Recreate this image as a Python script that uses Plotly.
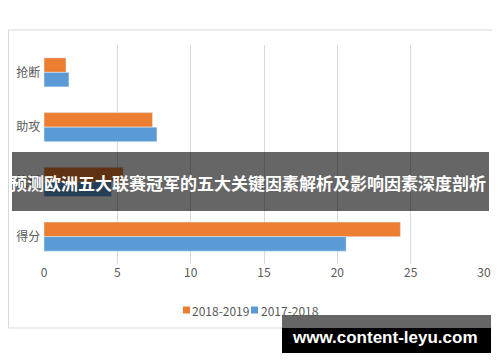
import plotly.graph_objects as go

categories = ["抢断", "助攻", "篮板", "得分"]
series_2018_2019 = [1.5, 7.4, 5.4, 24.3]
series_2017_2018 = [1.7, 7.7, 4.6, 20.6]
series_names = ["2018-2019", "2017-2018"]
series_colors = ["#ED7D31", "#5B9BD5"]
x_ticks = [0, 5, 10, 15, 20, 25, 30]
banner_text = "预测欧洲五大联赛冠军的五大关键因素解析及影响因素深度剖析"
watermark_text = "www.content-leyu.com"

# the page body adds an 8px offset; work in screen pixels and compensate
OFF = 8
W, H = 500 - OFF, 362 - OFF
L, R, T, B = 44 - OFF, 16, 45 - OFF, 98
pw, ph = W - L - R, H - T - B

def px(x):
    return (x - OFF - L) / pw

def py(y):
    return (H - B - (y - OFF)) / ph

fig = go.Figure()
for name, vals, col in zip(series_names, [series_2018_2019, series_2017_2018], series_colors):
    fig.add_trace(go.Bar(name=name, y=categories, x=vals,
                         orientation="h", marker_color=col))

cjk = "Noto Sans CJK SC"
fig.update_layout(
    width=W, height=H,
    margin=dict(l=L, r=R, t=T, b=B, autoexpand=False),
    paper_bgcolor="white", plot_bgcolor="white",
    barmode="group", bargap=0.47, bargroupgap=0,
    font=dict(family=cjk, color="#595959", size=12),
    xaxis=dict(range=[0, 30], tickvals=x_ticks, showgrid=True,
               gridcolor="#D9D9D9", gridwidth=1, zeroline=False,
               showline=False, ticks="", tickfont=dict(size=12, color="#595959"),
               fixedrange=True),
    yaxis=dict(autorange="reversed", showgrid=False, showline=False, ticks="",
               tickfont=dict(size=12, color="#595959"), ticksuffix=" "),
    showlegend=False,
)

shapes = [
    dict(type="rect", xref="paper", yref="paper", x0=px(8.5), x1=px(498),
         y0=py(30), y1=py(328), line=dict(color="#D9D9D9", width=1),
         fillcolor="rgba(0,0,0,0)", layer="below"),
]

# compact legend (square swatch + label), as in the reference
legend_sq_x = [183, 251]
legend_tx_x = [189.5, 258.5]
for name, col, sx, tx in zip(series_names, series_colors, legend_sq_x, legend_tx_x):
    shapes.append(dict(type="rect", xref="paper", yref="paper",
                       x0=px(sx), x1=px(sx + 7), y0=py(306.5), y1=py(313.5),
                       line=dict(width=0), fillcolor=col))
    fig.add_annotation(xref="paper", yref="paper", x=px(tx), y=py(310),
                       text=name, showarrow=False, xanchor="left",
                       yanchor="middle",
                       font=dict(family=cjk, size=12, color="#595959"))

shapes += [
    dict(type="rect", xref="paper", yref="paper", x0=px(12), x1=px(489),
         y0=py(152), y1=py(211), line=dict(width=0),
         fillcolor="rgba(0,0,0,0.6)", layer="above"),
    dict(type="rect", xref="paper", yref="paper", x0=px(282), x1=px(491),
         y0=py(315), y1=py(353), line=dict(width=0),
         fillcolor="#000000", layer="above"),
    dict(type="rect", xref="paper", yref="paper", x0=px(282), x1=px(491),
         y0=py(315), y1=py(328), line=dict(width=0),
         fillcolor="#666666", layer="above"),
]
fig.update_layout(shapes=shapes)

fig.add_annotation(xref="paper", yref="paper", x=px(248), y=py(182),
                   text="<b>" + banner_text + "</b>", showarrow=False,
                   font=dict(family=cjk, size=17, color="white"),
                   xanchor="center", yanchor="middle")
fig.add_annotation(xref="paper", yref="paper", x=px(385), y=py(337),
                   text="<b>" + watermark_text + "</b>", showarrow=False,
                   font=dict(family="Liberation Sans", size=17, color="white"),
                   xanchor="center", yanchor="middle")

fig.write_html("out.html")
